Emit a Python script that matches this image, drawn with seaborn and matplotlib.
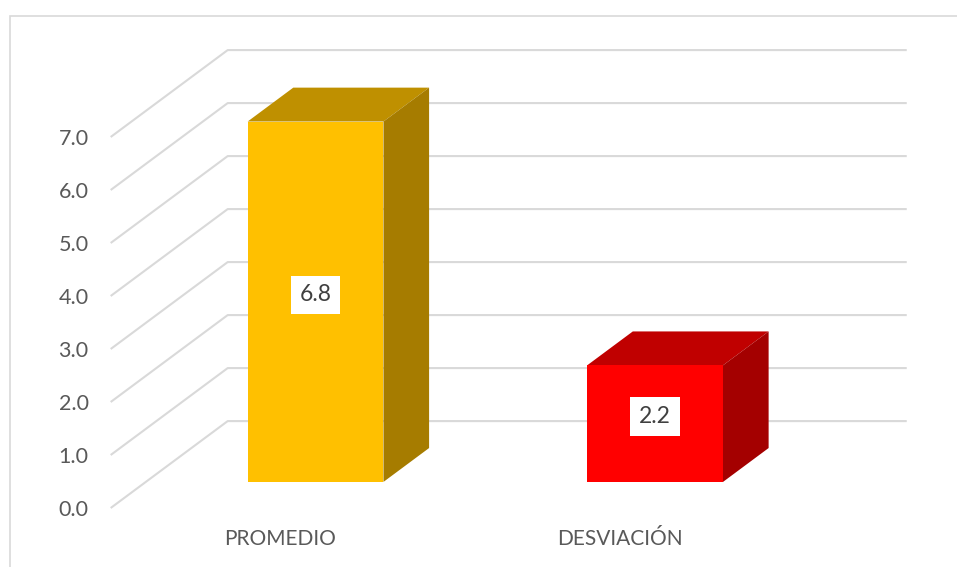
import numpy as np
import pandas as pd
import matplotlib
matplotlib.use("Agg")
import matplotlib.pyplot as plt
import seaborn as sns
from matplotlib.patches import Polygon, Rectangle

# ---------------- data ----------------
categories = ["PROMEDIO", "DESVIACIÓN"]
values = [6.8, 2.2]
value_labels = ["6.8", "2.2"]
y_ticks = [0, 1, 2, 3, 4, 5, 6, 7]
y_tick_labels = ["0.0", "1.0", "2.0", "3.0", "4.0", "5.0", "6.0", "7.0"]

front_colors = ["#FFC000", "#FF0000"]
top_colors = ["#BF9000", "#C00000"]
side_colors = ["#A67C00", "#A40000"]

GRID = "#D9D9D9"
TEXT = "#595959"

sns.set_theme(style="white")
plt.rcParams['font.family'] = ['Lato', 'DejaVu Sans']

W, H = 957, 567
fig = plt.figure(figsize=(W / 100, H / 100), dpi=100)
ax = fig.add_axes([0, 0, 1, 1])

# 3D oblique projection of the depth axis (in data units)
DEPTH_X = 0.3446
DEPTH_Y = 1.64
BAR_Z0 = 0.30     # bar front at 30% depth
BAR_DZ = 0.39     # bar depth fraction

df = pd.DataFrame({"cat": categories, "val": values})
sns.barplot(data=df, x="cat", y="val", hue="cat", palette=front_colors,
            width=0.4, saturation=1, ax=ax, legend=False, zorder=3,
            linewidth=0)

x_lo, x_hi = -0.5, len(categories) - 0.5

# walls gridlines: left wall diagonal + back wall horizontal
for t in y_ticks:
    ax.plot([x_lo, x_lo + DEPTH_X, x_hi + DEPTH_X],
            [t, t + DEPTH_Y, t + DEPTH_Y],
            color=GRID, lw=1.5, zorder=1, solid_capstyle="butt")

# shift front faces into depth and add top / side faces
patches = sorted(ax.patches, key=lambda p: p.get_x())
dx, dy = BAR_DZ * DEPTH_X, BAR_DZ * DEPTH_Y
for i, p in enumerate(patches):
    p.set_x(p.get_x() + BAR_Z0 * DEPTH_X)
    p.set_y(p.get_y() + BAR_Z0 * DEPTH_Y)
    x0, y0 = p.get_x(), p.get_y()
    x1, y1 = x0 + p.get_width(), y0 + p.get_height()
    top = Polygon([(x0, y1), (x1, y1), (x1 + dx, y1 + dy), (x0 + dx, y1 + dy)],
                  closed=True, fc=top_colors[i], ec="none", zorder=2.9)
    side = Polygon([(x1, y0), (x1 + dx, y0 + dy), (x1 + dx, y1 + dy), (x1, y1)],
                   closed=True, fc=side_colors[i], ec="none", zorder=2.9)
    ax.add_patch(top)
    ax.add_patch(side)
    ax.annotate(value_labels[i], xy=((x0 + x1) / 2, (y0 + y1) / 2),
                xytext=(0, 7), textcoords="offset pixels",
                ha="center", va="center", fontsize=16.5, color="#404040",
                zorder=5,
                bbox=dict(boxstyle="square,pad=0.38", fc="white", ec="none"))

# value axis tick labels (front-left edge)
for t, lab in zip(y_ticks, y_tick_labels):
    ax.annotate(lab, xy=(x_lo, t), xytext=(-22, -2), textcoords="offset pixels",
                ha="right", va="center", fontsize=15.5, color=TEXT)

# category labels
for i, lab in enumerate(categories):
    ax.annotate(lab, xy=(i, 0), xytext=(0, -31), textcoords="offset pixels",
                ha="center", va="center", fontsize=15, color=TEXT)

ax.set_xlim(-0.826, 1.9926)
ax.set_ylim(-1.113, 9.585)
ax.axis("off")

# chart area border
fig.add_artist(Rectangle((9.5 / W, -0.05), 1.2, 1.05 - 15.5 / H,
                         transform=fig.transFigure, fill=False,
                         ec=GRID, lw=1.2))

fig.savefig("out.png", dpi=100, facecolor="white")
